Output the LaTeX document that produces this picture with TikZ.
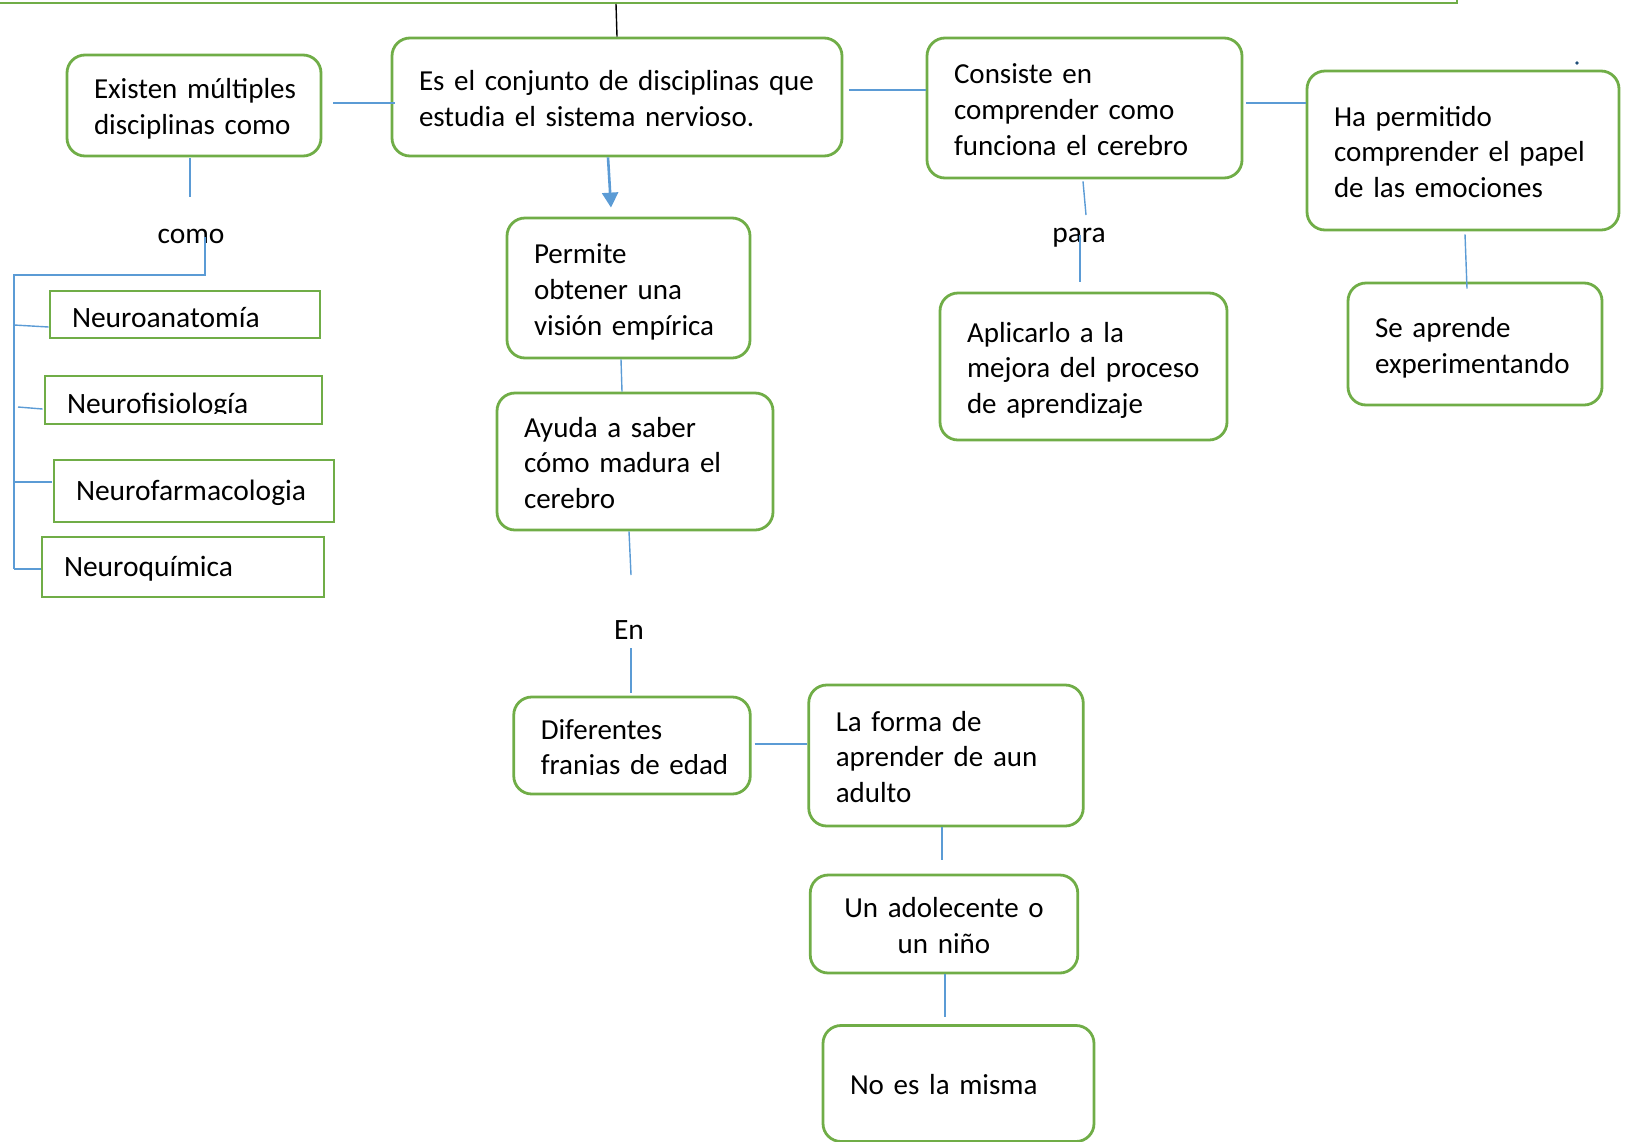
\documentclass[tikz,border=0pt]{standalone}
\usepackage{fontspec}
\setmainfont{Carlito}
\usepackage{trimclip}
\usetikzlibrary{calc,arrows.meta}
\definecolor{boxgreen}{HTML}{70AD47}
\definecolor{linkblue}{HTML}{5B9BD5}
\definecolor{dotblue}{HTML}{1F4E79}
\begin{document}
\begin{tikzpicture}[x=1pt,y=-1pt,font=\fontsize{29pt}{35.7pt}\selectfont]
      \tikzset{round box/.style 2 args={draw=boxgreen,line width=2.8pt,
          rounded corners=18pt,
          minimum width=#1pt,minimum height=#2pt,
          text width=#1pt-16pt,inner xsep=8pt,align=left,
          execute at begin node={\leftskip=19pt\rule{0pt}{33.4pt}},
          execute at end node={\strut}},
        plain box/.style n args={3}{draw=boxgreen,line width=2.8pt,
          font=\fontsize{29.5pt}{35.7pt}\selectfont,
          minimum width=#1pt,minimum height=#2pt,
          text width=#1pt-44pt,inner xsep=22pt,align=left,
          text height=#3pt,text depth=0pt},
        link/.style={draw=linkblue,line width=1.4pt},
        word/.style={inner sep=0pt,font=\fontsize{29.5pt}{35.7pt}\selectfont}
      }
      \useasboundingbox (0,0) rectangle (1629,1141);
      \draw [boxgreen,line width=2.8pt] (-10,3) -| (1457,-10);
      \coordinate (bar) at (616,4);
      \node [round box={450}{118}] (main) at (617,97) {Es el conjunto de disciplinas que\\estudia el sistema nervioso.};
      \node [round box={254}{101}] (exist) at (194,105.5) {Existen múltiples\\disciplinas como};
      \node [round box={243}{140}] (permite) at (628.5,288) {Permite\\obtener una\\visión empírica};
      \node [round box={276}{137}] (ayuda) at (635,461.5) {Ayuda a saber\\cómo madura el\\cerebro};
      \node [round box={236.5}{97}] (difer) at (632,745.5) {Diferentes\\\clipbox{0pt \depth{} 0pt 0pt}{franjas de edad}};
      \node [round box={274.5}{141}] (forma) at (946,755.5) {La forma de\\aprender de aun\\adulto};
      \node [round box={267.5}{98},execute at begin node={\leftskip=0pt plus 1fil\rightskip=0pt plus 1fil\parfillskip=0pt}] (adol) at (944,924) {Un adolecente o\\un niño};
      \node [round box={271}{116}] (nomisma) at (958.5,1083.5) {No es la misma};
      \node [round box={315}{140}] (consist) at (1084.5,108) {Consiste en\\comprender como\\funciona el cerebro};
      \node [round box={287}{147}] (aplic) at (1083.5,366.5) {Aplicarlo a la\\mejora del proceso\\de aprendizaje};
      \node [round box={312}{159}] (hap) at (1463,150.5) {Ha permitido\\comprender el papel\\de las emociones};
      \node [round box={254}{122}] (seapr) at (1475,344) {Se aprende\\experimentando};
      \node [plain box={270}{47}{25}] (anat) at (185,314.5) {\clipbox{0pt \depth{} 0pt 0pt}{Neuroanatomía}};
      \node [plain box={277}{48}{26}] (fisio) at (183.5,400) {\clipbox{0pt \depth{} 0pt 0pt}{Neurofisiología}};
      \node [plain box={280}{62}{18}] (farma) at (194,491) {Neurofarmacologia};
      \node [plain box={282}{60}{18}] (quim) at (183,567) {Neuroquímica};
      \node [word] (como) at (191,236) {como};
      \node [word] (para) at (1079,238) {para};
      \node [word] (en) at (629,630) {En};
      \coordinate (bus) at (14,275);
      \coordinate (busend) at (14,569);
      \draw [line width=1.4pt] (main.north) -- (bar);
      \draw [link] ($(exist.east)+(11,-2.5)$) -- ($(main.west)+(4,6)$);
      \draw [link,line width=2.6pt,-{Triangle[length=15pt,width=16pt]}] ($(main.south)+(-9,0)$) -- ($(permite.north)+(-17.5,-9)$);
      \draw [link] ($(permite.south)+(-7.5,0)$) -- ($(ayuda.north)+(-13,0)$);
      \draw [link] ($(ayuda.south)+(-6,0)$) -- ($(en)+(2,-55)$);
      \draw [link] ($(en)+(2,18)$) -- ($(difer.north)+(-1,-3)$);
      \draw [link] ($(difer.east)+(3,-1.5)$) -- ($(forma.west)+(0,-11.5)$);
      \draw [link] ($(forma.south)+(-4,0)$) -- ($(adol.north)+(-2,-14)$);
      \draw [link] ($(adol.south)+(1,0)$) -- ($(nomisma.north)+(-13.5,-7)$);
      \draw [link] ($(main.east)+(6,-7)$) -- ($(consist.west)+(0,-18)$);
      \draw [link] ($(consist.east)+(3,-5)$) -- ($(hap.west)+(0,-47.5)$);
      \draw [link] ($(consist.south)+(-1.5,2)$) -- ($(para)+(7,-23)$);
      \draw [link] ($(para)+(1,-3)$) -- ($(aplic.north)+(-3.5,-10)$);
      \draw [link] ($(hap.south)+(2,3)$) -- ($(seapr.north)+(-8,7)$);
      \draw [link] ($(exist.south)+(-4,1)$) -- ($(como)+(-1,-39)$);
      \draw [link] ($(como)+(14,1)$) |- (bus) -- (busend);
      \draw [link] (bus |- 0,325) -- ($(anat.west)+(0,12.5)$);
      \draw [link] (18,407) -- ($(fisio.west)+(-1,9)$);
      \draw [link] (bus |- 0,482) -- ($(farma.west)+(-1,-9)$);
      \draw [link] (busend) -- ($(quim.west)+(0,2)$);
      \fill [dotblue] (1577,63) circle (1.8pt);
    \end{tikzpicture}
\end{document}
